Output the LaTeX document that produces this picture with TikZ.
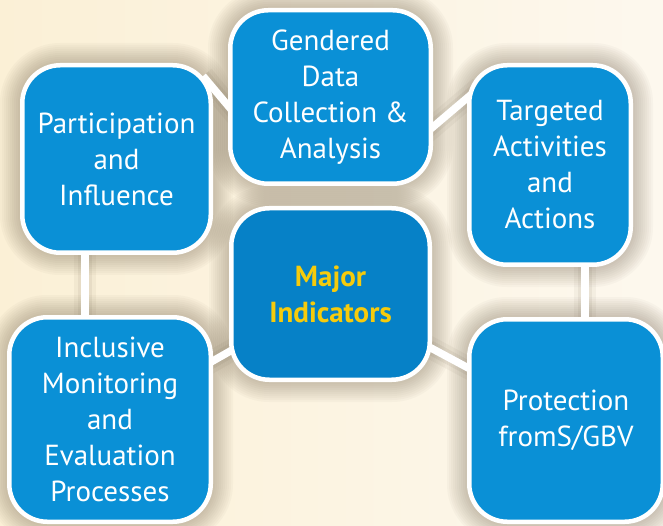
\documentclass[tikz,border=0pt]{standalone}
\usepackage{fontspec}
\setmainfont{PT Sans}
\usetikzlibrary{calc}
\definecolor{bgL}{HTML}{FBF0D6}
\definecolor{bgR}{HTML}{FDF8EE}
\definecolor{boxblue}{HTML}{0A90D6}
\definecolor{majblue}{HTML}{0681C7}
\definecolor{yel}{HTML}{F6CB0C}
\definecolor{shadc}{HTML}{5A4C36}
\pgfdeclarelayer{bgl}
\pgfdeclarelayer{shl}
\pgfdeclarelayer{cnl}
\pgfsetlayers{bgl,shl,cnl,main}
\tikzset{
  box/.style={draw=white, line width=4.5pt, fill=boxblue, rounded corners=38pt,
    text=white, align=center, font=\fontsize{29}{36}\selectfont, inner sep=0pt},
  majbox/.style={box, fill=majblue, text=yel, font=\fontsize{29}{36}\selectfont\bfseries},
  conn/.style={draw=white, line width=7.5pt},
  connshade/.style={draw=shadc, line width=22pt, opacity=0.05},
  connshadeb/.style={draw=shadc, line width=14pt, opacity=0.07},
  shadeRing/.style={fill=shadc, opacity=0.032}
}
\begin{document}
\begin{tikzpicture}[x=1pt,y=-1pt]
\begin{pgfonlayer}{bgl}
  \shade[left color=bgL, right color=bgR] (0,0) rectangle (663,526);
\end{pgfonlayer}
\useasboundingbox (0,0) rectangle (663,526);
\node[box, minimum width=188.5pt, minimum height=187.5pt] (part) at (116.5,159)
  {Participation\\and\\Influence};
\node[box, minimum width=200.5pt, minimum height=173.5pt] (gend) at (330.5,97)
  {Gendered\\Data\\Collection \&\\Analysis};
\node[box, minimum width=161.5pt, minimum height=199.5pt] (targ) at (550,165)
  {Targeted\\Activities\\and\\Actions};
\node[majbox, minimum width=198.5pt, minimum height=171.5pt] (major) at (330.5,294)
  {Major\\Indicators};
\node[box, minimum width=201.5pt, minimum height=204.5pt] (incl) at (110,419.5)
  {Inclusive\\Monitoring\\and\\Evaluation\\Processes};
\node[box, minimum width=193.5pt, minimum height=202.5pt] (prot) at (566,420.5)
  {Protection\\fromS/GBV};
\begin{pgfonlayer}{shl}
  \foreach \n in {part,gend,targ,major,incl,prot}{
    \foreach \k in {2,4,...,20}{
      \path[shadeRing, rounded corners=40+\k]
        ([shift={(-\k,-\k)}]\n.north west) rectangle ([shift={(\k,\k)}]\n.south east);
    }
  }
  \foreach \s in {connshade,connshadeb}{
    \draw[\s] ([shift={(-10,13)}]part.north east) -- ([shift={(12,23)}]gend.west);
    \draw[\s] ([shift={(-13,41)}]gend.east) -- ([shift={(13,24)}]targ.north west);
    \draw[\s] ([xshift=-31.5]part.south) -- ([xshift=-25]incl.north);
    \draw[\s] ([xshift=35]targ.south) -- ([xshift=19]prot.north);
    \draw[\s] (major.center) -- (incl.center);
    \draw[\s] (major.center) -- (prot.center);
  }
\end{pgfonlayer}
\begin{pgfonlayer}{cnl}
  \draw[conn] ([shift={(-10,13)}]part.north east) -- ([shift={(12,23)}]gend.west);
  \draw[conn] ([shift={(-13,41)}]gend.east) -- ([shift={(13,24)}]targ.north west);
  \draw[conn] ([shift={(-31.5,-10)}]part.south) -- ([shift={(-25,10)}]incl.north);
  \draw[conn] ([shift={(35,-10)}]targ.south) -- ([shift={(19,10)}]prot.north);
  \draw[conn] (major.center) -- (incl.center);
  \draw[conn] (major.center) -- (prot.center);
\end{pgfonlayer}
\end{tikzpicture}
\end{document}
